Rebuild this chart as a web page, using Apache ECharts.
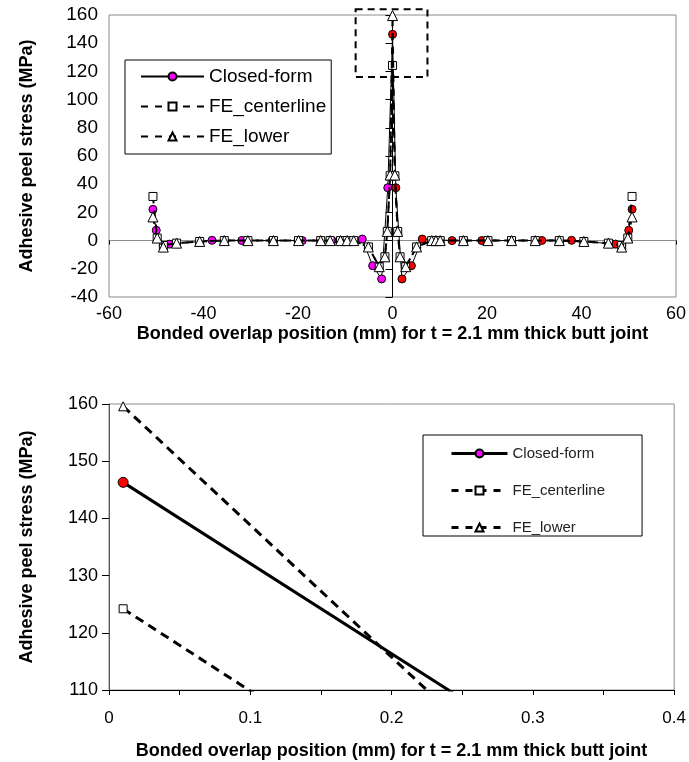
<!DOCTYPE html>
<html>
<head>
<meta charset="utf-8">
<script src="https://cdn.jsdelivr.net/npm/echarts@6/dist/echarts.min.js"></script>
<style>
  html, body { margin: 0; padding: 0; background: #fff; }
  #chart { width: 689px; height: 762px; }
</style>
</head>
<body>
<div id="chart"></div>
<script>
// Peel stress along the bonded overlap (mm) of a 2.1 mm thick butt joint

// Closed-form solution
const cfX = [-50.7, -50.0, -48.5, -47.2, -38.2, -31.9, -25.5, -19.1, -12.8, -6.4, -4.2, -2.3, -1.0,
             0.01, 0.7, 2.0, 4.0, 6.3, 12.6, 18.9, 25.2, 31.6, 37.9, 47.2, 48.5, 50.0, 50.7];
const cfY = [22.2, 7.3, -3.6, -2.5, 0.2, 0.1, 0.0, 0.0, 0.0, 1.1, -17.8, -27.2, 37.5,
             146.3, 37.5, -27.2, -17.8, 1.1, 0.0, 0.0, 0.0, 0.1, 0.2, -2.5, -3.6, 7.3, 22.2];

// Finite element results (same mesh positions for both paths)
const feX = [-50.7, -49.8, -48.5, -45.7, -40.8, -35.6, -30.6, -25.2, -19.9, -15.2, -13.2, -11.0, -9.6, -8.2,
             -5.1, -2.8, -1.6, -1.1, -0.5,
             0.01, 0.5, 1.1, 1.6, 2.8, 5.1, 8.3, 9.2, 10.1, 15.0, 20.2, 25.2, 30.2, 35.3, 40.5, 45.7,
             48.5, 49.8, 50.7];
const feCenter = [31.3, 1.8, -3.5, -1.8, -0.6, 0.0, 0.0, 0.0, 0.0, 0.0, 0.0, 0.0, 0.0, 0.0,
                  -4.5, -18.5, -11.5, 6.5, 46.0,
                  124.2, 46.0, 6.5, -11.5, -18.5, -4.5, 0.0, 0.0, 0.0, 0.0, 0.0, 0.0, 0.0, 0.0, -0.6, -1.8,
                  -3.5, 1.8, 31.3];
const feLower = [16.8, 1.8, -4.6, -1.8, -0.6, 0.0, 0.0, 0.0, 0.0, 0.0, 0.0, 0.0, 0.0, 0.0,
                 -4.5, -18.5, -11.5, 6.5, 46.5,
                 159.6, 46.5, 6.5, -11.5, -18.5, -4.5, 0.0, 0.0, 0.0, 0.0, 0.0, 0.0, 0.0, 0.0, -0.6, -1.8,
                 -4.6, 1.8, 16.8];

// Axis ranges and the region enlarged in the lower plot
const fullXTicks = { min: -60, max: 60, interval: 20 };
const fullYTicks = { min: -40, max: 160, interval: 20 };
const zoomXTicks = { min: 0, max: 0.4, interval: 0.05 };
const zoomYTicks = { min: 110, max: 160, interval: 10 };
const zoomFrame = { x: [-7.8, 7.4], y: [116, 164] };

const names = ['Closed-form', 'FE_centerline', 'FE_lower'];
const xTitle = 'Bonded overlap position (mm) for t = 2.1 mm thick butt joint';
const yTitle = 'Adhesive peel stress (MPa)';
const FONT = '"Liberation Sans", Arial, sans-serif';
const MAGENTA = '#FF00FF', RED = '#FF0000';

const pointOf = (x, y) => x > 0
  ? { value: [x, y], itemStyle: { color: RED } }
  : { value: [x, y] };
const pairs = (xs, ys, keep) => xs.map((x, i) => [x, ys[i]]).filter(p => keep(p[0]));

// thick = enlarged plot, which shows the positive side of the joint only
function makeSeries(xi, yi, thick) {
  const keep = thick ? (x => x > 0) : (() => true);
  const lw = thick ? 3 : 1;
  const dw = thick ? 3 : 2;
  const dash = thick ? [9, 6] : [7, 7];
  return [
    { name: names[0], type: 'line', xAxisIndex: xi, yAxisIndex: yi,
      data: pairs(cfX, cfY, keep).map(p => pointOf(p[0], p[1])),
      symbol: 'circle', symbolSize: thick ? 10 : 8,
      lineStyle: { color: '#000', width: lw },
      itemStyle: { color: MAGENTA, borderColor: '#000', borderWidth: 1 },
      emphasis: { disabled: true }, animation: false, z: 2 },
    { name: names[1], type: 'line', xAxisIndex: xi, yAxisIndex: yi, data: pairs(feX, feCenter, keep),
      symbol: 'rect', symbolSize: 8,
      lineStyle: { color: '#000', width: dw, type: dash },
      itemStyle: { color: '#fff', borderColor: '#000', borderWidth: 1 },
      emphasis: { disabled: true }, animation: false, z: 3 },
    { name: names[2], type: 'line', xAxisIndex: xi, yAxisIndex: yi, data: pairs(feX, feLower, keep),
      symbol: 'triangle', symbolSize: thick ? 9 : 10,
      lineStyle: { color: '#000', width: dw, type: dash },
      itemStyle: { color: '#fff', borderColor: '#000', borderWidth: 1 },
      emphasis: { disabled: true }, animation: false, z: 4 }
  ];
}

const chart = echarts.init(document.getElementById('chart'), null, { renderer: 'canvas' });

const titleStyle = { fontFamily: FONT, fontSize: 18, fontWeight: 'bold', color: '#000' };

const option = {
  backgroundColor: '#fff',
  animation: false,
  textStyle: { fontFamily: FONT, color: '#000' },
  grid: [
    { left: 109, right: 13, top: 15, height: 282, show: true, borderColor: '#8c8c8c', borderWidth: 1, backgroundColor: 'transparent' },
    { left: 109, right: 13, top: 404, height: 286, show: true, borderColor: '#8c8c8c', borderWidth: 1, backgroundColor: 'transparent' }
  ],
  xAxis: [
    { type: 'value', gridIndex: 0, ...fullXTicks,
      name: xTitle, nameLocation: 'middle', nameGap: 28, nameTextStyle: titleStyle,
      axisLine: { show: false, onZero: false },
      axisTick: { show: false },
      axisLabel: { fontFamily: FONT, fontSize: 18, color: '#000', margin: 8 },
      splitLine: { show: false } },
    { type: 'value', gridIndex: 0, ...fullXTicks, position: 'bottom',
      axisLine: { show: true, onZero: true, lineStyle: { color: '#8c8c8c', width: 1 } },
      axisTick: { show: true, inside: false, length: 4, lineStyle: { color: '#000' } },
      axisLabel: { show: false },
      splitLine: { show: false } },
    { type: 'value', gridIndex: 1, ...zoomXTicks,
      name: xTitle, nameLocation: 'middle', nameGap: 52, nameTextStyle: titleStyle,
      axisLine: { show: true, onZero: false, lineStyle: { color: '#000', width: 1 } },
      axisTick: { show: true, length: 5, lineStyle: { color: '#000' } },
      axisLabel: { fontFamily: FONT, fontSize: 17, color: '#000', margin: 20,
        formatter: v => (Math.round(v * 100) % 10 === 0) ? String(Math.round(v * 10) / 10) : '' },
      splitLine: { show: false } }
  ],
  yAxis: [
    { type: 'value', gridIndex: 0, ...fullYTicks,
      name: yTitle, nameLocation: 'middle', nameRotate: 90, nameGap: 73, nameTextStyle: titleStyle,
      axisLine: { show: true, lineStyle: { color: '#000', width: 1 } },
      axisTick: { show: true, length: 7, lineStyle: { color: '#000' } },
      axisLabel: { fontFamily: FONT, fontSize: 19, color: '#000', margin: 11 },
      splitLine: { show: false } },
    { type: 'value', gridIndex: 1, ...zoomYTicks,
      name: yTitle, nameLocation: 'middle', nameRotate: 90, nameGap: 73, nameTextStyle: titleStyle,
      axisLine: { show: true, lineStyle: { color: '#555', width: 1 } },
      axisTick: { show: true, length: 7, lineStyle: { color: '#000' } },
      axisLabel: { fontFamily: FONT, fontSize: 18, color: '#000', margin: 11 },
      splitLine: { show: false } }
  ],
  legend: [
    { orient: 'vertical', left: 125, top: 60,
      data: names, itemWidth: 63, itemHeight: 10, itemGap: 11,
      padding: [7, 5, 8, 15], borderColor: '#000', borderWidth: 1, backgroundColor: '#fff',
      textStyle: { fontFamily: FONT, fontSize: 19, color: '#000' },
      selectedMode: false },
    { orient: 'vertical', left: 423, top: 435,
      data: names.map(n => ({ name: n, lineStyle: { width: 3 } })),
      itemWidth: 56, itemHeight: 10, itemGap: 22,
      padding: [11, 37, 1, 27], borderColor: '#000', borderWidth: 1, backgroundColor: '#fff',
      textStyle: { fontFamily: FONT, fontSize: 15, color: '#222' },
      selectedMode: false }
  ],
  series: [...makeSeries(0, 0, false), ...makeSeries(2, 1, true)]
};

chart.setOption(option);

// Dashed frame marking the enlarged region on the full plot
const p0 = chart.convertToPixel({ gridIndex: 0 }, [zoomFrame.x[0], zoomFrame.y[1]]);
const p1 = chart.convertToPixel({ gridIndex: 0 }, [zoomFrame.x[1], zoomFrame.y[0]]);
chart.setOption({
  graphic: [{
    type: 'rect', z: 10, silent: true,
    shape: { x: p0[0], y: p0[1], width: p1[0] - p0[0], height: p1[1] - p0[1] },
    style: { fill: 'none', stroke: '#000', lineWidth: 2, lineDash: [7, 5] }
  }]
});
</script>
</body>
</html>
